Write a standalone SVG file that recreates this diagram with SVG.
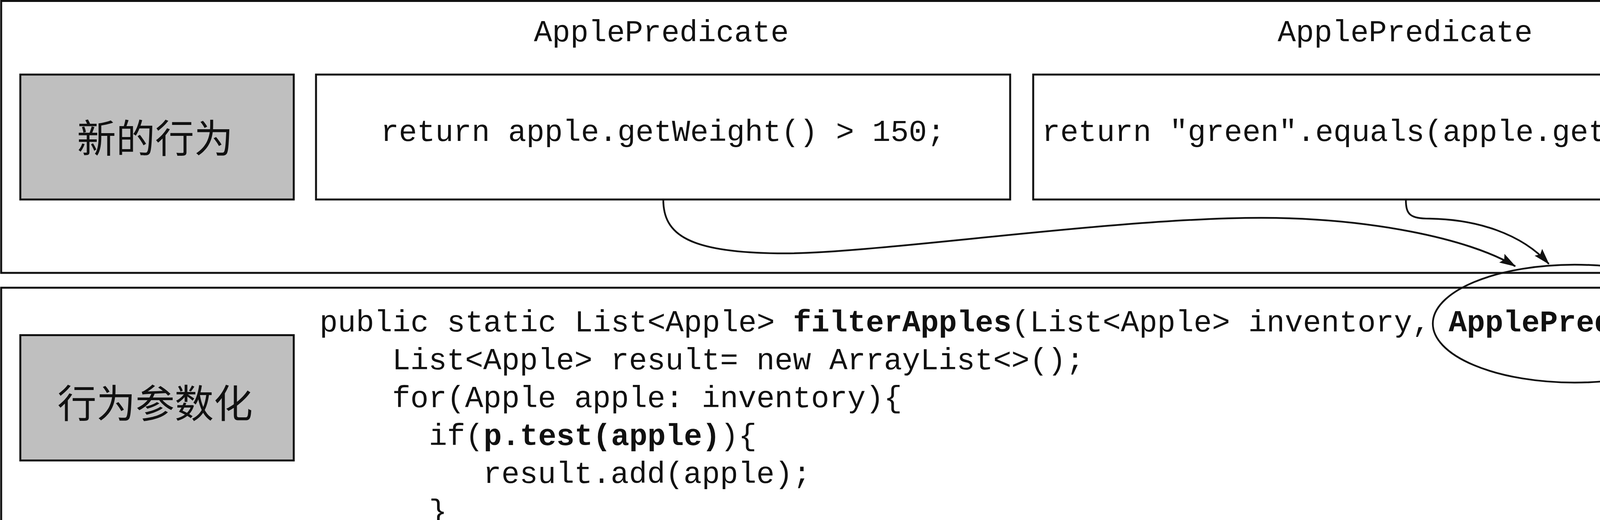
<svg xmlns="http://www.w3.org/2000/svg" width="4612" height="1332" viewBox="0 0 4612 1332">
<style>
.frame{fill:#fff;stroke:#111;stroke-width:5}
.gray{fill:#bfbfbf;stroke:#111;stroke-width:5}
.box{fill:#fff;stroke:#111;stroke-width:5}
.mono{font-family:"Liberation Mono","Courier New",monospace;font-size:77.7px;fill:#111}
.b{font-weight:bold}
.cjk{font-family:"Noto Sans CJK SC","Noto Sans",sans-serif;font-size:100px;fill:#111;text-anchor:middle}
.conn{fill:none;stroke:#111;stroke-width:4.5}
</style>
<defs>
<marker id="arr" markerUnits="userSpaceOnUse" markerWidth="44" markerHeight="28" refX="40" refY="13" orient="auto" viewBox="0 0 44 28">
<path d="M0,0 L42,13 L0,26 L7,13 z" fill="#111"/>
</marker>
</defs>
<rect width="4612" height="1332" fill="#fff"/>
<g id="top-panel">
<rect class="frame" x="3" y="2.5" width="4603" height="696.5"/>
</g>
<g id="bottom-panel">
<rect class="frame" x="3" y="737" width="4603" height="700"/>
</g>
<g id="label-new-behavior">
<rect class="gray" x="52" y="191" width="700" height="320"/>
<text class="cjk" x="397" y="391">新的行为</text>
</g>
<g id="predicate-weight">
<text class="mono" x="1693" y="106" text-anchor="middle">ApplePredicate</text>
<rect class="box" x="809" y="191" width="1777" height="320"/>
<text class="mono" x="1697" y="361" text-anchor="middle">return apple.getWeight() &gt; 150;</text>
</g>
<g id="predicate-color">
<text class="mono" x="3597" y="106" text-anchor="middle">ApplePredicate</text>
<rect class="box" x="2645" y="191" width="1910" height="320"/>
<text class="mono" x="3600" y="361" text-anchor="middle">return "green".equals(apple.getColor());</text>
</g>
<g id="label-parameterization">
<rect class="gray" x="52" y="858.5" width="700" height="321"/>
<text class="cjk" x="397" y="1070">行为参数化</text>
</g>
<g id="code">
<text class="mono" x="818" y="849">public static List&lt;Apple&gt; <tspan class="b">filterApples</tspan>(List&lt;Apple&gt; inventory, <tspan class="b">ApplePredicate</tspan> p){</text>
<text class="mono" x="1004" y="946">List&lt;Apple&gt; result= new ArrayList&lt;&gt;();</text>
<text class="mono" x="1004" y="1043">for(Apple apple: inventory){</text>
<text class="mono" x="1098" y="1140">if(<tspan class="b">p.test(apple)</tspan>){</text>
<text class="mono" x="1237" y="1237">result.add(apple);</text>
<text class="mono" x="1098" y="1334">}</text>
</g>
<g id="highlight">
<ellipse cx="4031" cy="829" rx="363" ry="151" fill="none" stroke="#111" stroke-width="4.5"/>
</g>
<g id="connectors">
<path class="conn" marker-end="url(#arr)" d="M1698,511 C1698,600 1760,649 2010,649 C2250,649 2850,558 3229,558 C3500,558 3760,610 3879,682"/>
<path class="conn" marker-end="url(#arr)" d="M3599,511 C3599,550 3610,560 3660,560 C3780,562 3895,598 3965,676"/>
</g>
</svg>
